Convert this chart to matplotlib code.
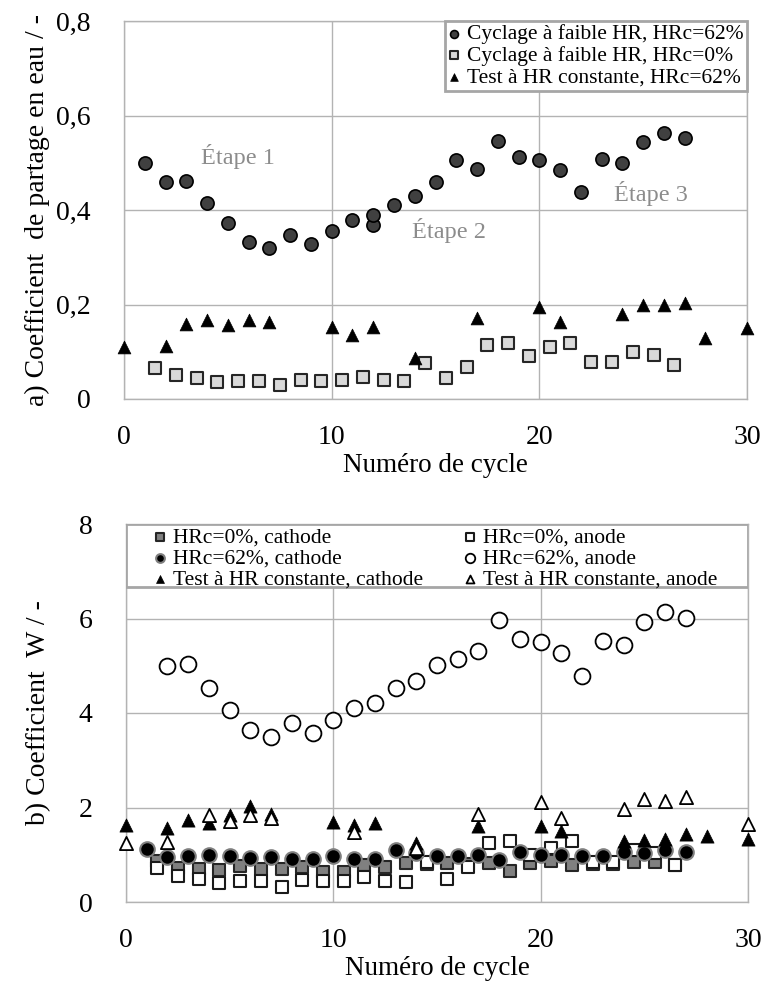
import matplotlib
matplotlib.use("Agg")
import matplotlib.pyplot as plt
from matplotlib.patches import Rectangle

plt.rcParams['font.family'] = ['Liberation Serif', 'DejaVu Serif']

# ---- data, panel a) ----
cyc62_x = [1, 2, 3, 4, 5, 6, 7, 8, 9, 10, 11, 12, 12, 13, 14, 15, 16, 17, 18, 19,
           20, 21, 22, 23, 24, 25, 26, 27]
cyc62_y = [0.50, 0.46, 0.462, 0.415, 0.372, 0.333, 0.32, 0.347, 0.327, 0.355,
           0.378, 0.369, 0.39, 0.41, 0.429, 0.46, 0.506, 0.487, 0.547, 0.512,
           0.506, 0.484, 0.439, 0.507, 0.50, 0.544, 0.564, 0.552]

cyc0_x = [1.5, 2.5, 3.5, 4.5, 5.5, 6.5, 7.5, 8.5, 9.5, 10.5, 11.5, 12.5, 13.5,
          14.5, 15.5, 16.5, 17.5, 18.5, 19.5, 20.5, 21.5, 22.5, 23.5, 24.5, 25.5, 26.5]
cyc0_y = [0.065, 0.051, 0.044, 0.037, 0.039, 0.039, 0.030, 0.041, 0.039, 0.040,
          0.047, 0.040, 0.038, 0.077, 0.045, 0.068, 0.114, 0.119, 0.090, 0.109,
          0.118, 0.078, 0.078, 0.100, 0.093, 0.072]

test_x = [0, 2, 3, 4, 5, 6, 7, 10, 11, 12, 14, 17, 20, 21, 24, 25, 26, 27, 28, 30]
test_y = [0.111, 0.113, 0.158, 0.167, 0.157, 0.167, 0.162, 0.153, 0.136, 0.153,
          0.086, 0.171, 0.194, 0.162, 0.179, 0.200, 0.198, 0.204, 0.129, 0.150]

etapes = ["Étape 1", "Étape 2", "Étape 3"]
etapes_x = [3.7, 13.85, 23.6]
etapes_y = [0.513, 0.357, 0.434]

# ---- data, panel b) ----
w0_x = cyc0_x
w0_cat = [0.86, 0.72, 0.70, 0.67, 0.77, 0.70, 0.70, 0.74, 0.63, 0.63, 0.79, 0.75,
          0.83, 0.80, 0.83, 0.80, 0.83, 0.65, 0.83, 0.86, 0.79, 0.80, 0.80, 0.84,
          0.84, 0.78]
w0_an = [0.72, 0.56, 0.49, 0.40, 0.44, 0.44, 0.32, 0.47, 0.44, 0.44, 0.53, 0.44,
         0.42, 0.84, 0.49, 0.74, 1.25, 1.30, 1.00, 1.14, 1.30, 0.84, 0.84, 1.11,
         1.04, 0.79]

w62_cat_x = list(range(1, 28))
w62_cat = [1.12, 0.95, 0.98, 1.00, 0.98, 0.93, 0.95, 0.91, 0.90, 0.97, 0.91, 0.91,
           1.09, 1.04, 0.97, 0.97, 1.00, 0.88, 1.06, 1.00, 1.00, 0.98, 0.98, 1.05,
           1.04, 1.11, 1.05]
w62_an_x = list(range(2, 28))
w62_an = [5.0, 5.04, 4.53, 4.06, 3.63, 3.49, 3.79, 3.57, 3.86, 4.11, 4.22, 4.52,
          4.67, 5.01, 5.15, 5.31, 5.97, 5.57, 5.50, 5.27, 4.78, 5.52, 5.44, 5.92,
          6.14, 6.02]

wt_cat_x = [0, 2, 3, 4, 5, 6, 7, 10, 11, 12, 14, 17, 20, 21, 24, 25, 26, 27, 28, 30]
wt_cat = [1.62, 1.57, 1.73, 1.67, 1.85, 2.03, 1.87, 1.69, 1.64, 1.67, 1.25, 1.60,
          1.60, 1.50, 1.30, 1.31, 1.33, 1.43, 1.39, 1.33]
wt_an_x = [0, 2, 4, 5, 6, 7, 11, 14, 17, 20, 21, 24, 25, 26, 27, 30]
wt_an = [1.25, 1.26, 1.85, 1.71, 1.85, 1.78, 1.48, 1.15, 1.87, 2.11, 1.78, 1.97,
         2.19, 2.13, 2.22, 1.66]

GRID = '#b3b3b3'
FRAME = '#a6a6a6'


def style_axes(ax, ymax, ystep, fmt):
    """ common Excel-like look for both panels """
    ax.set_xlim(0, 30)
    ax.set_ylim(0, ymax)
    ax.set_xticks([0, 10, 20, 30])
    yt = [i * ystep for i in range(int(round(ymax / ystep)) + 1)]
    ax.set_yticks(yt)
    ax.set_yticklabels([fmt(v) for v in yt])
    ax.grid(True, color=GRID, linewidth=1.0)
    ax.set_axisbelow(True)
    for s in ax.spines.values():
        s.set_color(GRID)
        s.set_linewidth(1.0)
    ax.tick_params(axis='both', length=0, labelsize=20)
    ax.tick_params(axis='y', pad=24)
    ax.tick_params(axis='x', pad=19)
    ax.set_xlabel("Numéro de cycle", fontsize=19.5, labelpad=2)


fig = plt.figure(figsize=(7.63, 9.92), dpi=100)

# ---------- a) ----------
ax1 = fig.add_axes([124 / 763, 1 - 399 / 992, 623 / 763, 378 / 992])
style_axes(ax1, 0.8, 0.2, lambda v: "0" if v == 0 else ("%.1f" % v).replace(".", ","))
ax1.scatter(cyc62_x, cyc62_y, s=90, marker='o', facecolor='#404040',
            edgecolor='black', linewidth=1.2, zorder=3,
            label="Cyclage à faible HR, HRc=62%")
ax1.scatter(cyc0_x, cyc0_y, s=80, marker='s', facecolor='#d9d9d9',
            edgecolor='#262626', linewidth=1.5, zorder=3,
            label="Cyclage à faible HR, HRc=0%")
ax1.scatter(test_x, test_y, s=85, marker='^', facecolor='black',
            edgecolor='black', linewidth=0.5, zorder=3, clip_on=False,
            label="Test à HR constante, HRc=62%")
for t, x, y in zip(etapes, etapes_x, etapes_y):
    ax1.text(x, y, t, fontsize=17.5, color='#8c8c8c', va='center', ha='left')
ax1.set_ylabel("a) Coefficient  de partage en eau / -", fontsize=20, labelpad=4)
leg1 = ax1.legend(loc='upper right', borderaxespad=0, fontsize=15.5,
                  handlelength=0.6, handletextpad=0.3, markerscale=0.6,
                  labelspacing=0.08, borderpad=0.15, fancybox=False,
                  framealpha=1)
leg1.get_frame().set_edgecolor(FRAME)
leg1.get_frame().set_linewidth(2)

# ---------- b) ----------
ax2 = fig.add_axes([126 / 763, 1 - 902 / 992, 622 / 763, 378 / 992])
style_axes(ax2, 8, 2, lambda v: "%d" % v)
h0c = ax2.scatter(w0_x, w0_cat, s=80, marker='s', facecolor='#808080',
                  edgecolor='#262626', linewidth=1.5, zorder=3)
h0a = ax2.scatter(w0_x, w0_an, s=80, marker='s', facecolor='white',
                  edgecolor='#1a1a1a', linewidth=1.5, zorder=3)
h62c = ax2.scatter(w62_cat_x, w62_cat, s=110, marker='o', facecolor='black',
                   edgecolor='#7f7f7f', linewidth=1.5, zorder=3)
h62a = ax2.scatter(w62_an_x, w62_an, s=130, marker='o', facecolor='white',
                   edgecolor='black', linewidth=1.3, zorder=3)
htc = ax2.scatter(wt_cat_x, wt_cat, s=90, marker='^', facecolor='black',
                  edgecolor='black', linewidth=0.5, zorder=3, clip_on=False)
hta = ax2.scatter(wt_an_x, wt_an, s=90, marker='^', facecolor='white',
                  edgecolor='black', linewidth=1.3, zorder=3, clip_on=False)
ax2.set_ylabel("b) Coefficient  W / -", fontsize=20, labelpad=20)

# legend box spanning the full width of the plot area
ax2.add_patch(Rectangle((0, (902 - 587) / 378), 1, (587 - 524) / 378,
                        transform=ax2.transAxes, facecolor='white',
                        edgecolor=FRAME, linewidth=2, zorder=4))
handles = [h0c, h62c, htc, h0a, h62a, hta]
labels = ["HRc=0%, cathode", "HRc=62%, cathode", "Test à HR constante, cathode",
          "HRc=0%, anode", "HRc=62%, anode", "Test à HR constante, anode"]
leg2 = ax2.legend(handles, labels, ncol=2, loc='upper left',
                  bbox_to_anchor=((150 - 126) / 622, 1.0), borderaxespad=0,
                  fontsize=15.5, handlelength=0.6, handletextpad=0.3,
                  markerscale=0.6, labelspacing=0.05, borderpad=0.15,
                  frameon=False, columnspacing=1.9)
leg2.set_zorder(5)

fig.savefig("out.png", dpi=100)
